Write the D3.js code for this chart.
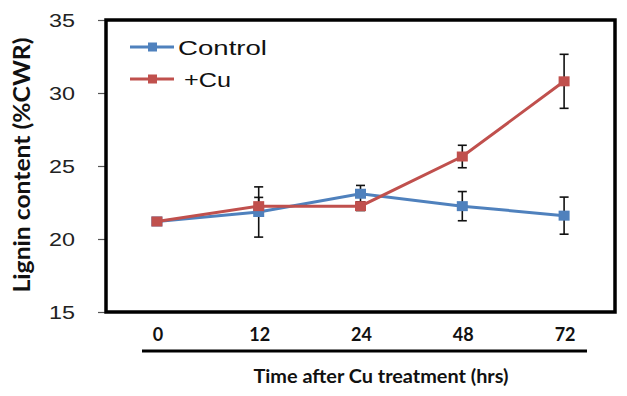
<!DOCTYPE html>
<html>
<head>
<meta charset="utf-8">
<script src="https://cdn.jsdelivr.net/npm/d3@7"></script>
<style>
  html, body { margin: 0; padding: 0; background: #fff; }
</style>
</head>
<body>
<div id="chart"></div>
<script>
// data
const hours = ['0', '12', '24', '48', '72'];
const controlMean = [21.2, 21.85, 23.1, 22.25, 21.6];
const controlErr = [0, 1.72, 0.57, 1.0, 1.27];
const cuMean = [21.2, 22.25, 22.25, 25.65, 30.8];
const cuErr = [0, 0.6, 0.3, 0.77, 1.85];
const yTicks = [15, 20, 25, 30, 35];

const width = 627, height = 396;
const plot = { left: 106, right: 615, top: 20, bottom: 312 };

const svg = d3.select('#chart').append('svg')
    .attr('width', width)
    .attr('height', height);

const x = d3.scaleBand().domain(hours).range([plot.left, plot.right]);
const y = d3.scaleLinear().domain([15, 35]).range([plot.bottom, plot.top]);
const cx = function (d) { return x(d) + x.bandwidth() / 2; };

// the original picture is stretched sideways, so text widths are forced
// y axis
const yAxis = svg.append('g')
    .attr('transform', 'translate(' + plot.left + ',0)')
    .call(d3.axisLeft(y).tickValues(yTicks).tickSize(8).tickPadding(23));
yAxis.select('.domain').remove();
yAxis.selectAll('line').attr('stroke', '#555').attr('stroke-width', 1.2);
yAxis.selectAll('text')
    .attr('font-family', 'Liberation Sans, Arial, sans-serif')
    .attr('font-size', 19)
    .attr('fill', '#222')
    .attr('textLength', 26)
    .attr('lengthAdjust', 'spacingAndGlyphs');

// frame
svg.append('rect')
    .attr('x', plot.left)
    .attr('y', plot.top)
    .attr('width', plot.right - plot.left)
    .attr('height', plot.bottom - plot.top)
    .attr('fill', 'none')
    .attr('stroke', '#000')
    .attr('stroke-width', 3.5);

// x labels (no tick marks)
svg.append('g').selectAll('text')
    .data(hours)
    .enter()
    .append('text')
    .attr('x', function (d) { return cx(d) + 1; })
    .attr('y', 341)
    .attr('text-anchor', 'middle')
    .attr('font-family', 'Lato, sans-serif')
    .attr('font-weight', 'bold')
    .attr('font-size', 18)
    .attr('fill', '#111')
    .text(function (d) { return d; });

svg.append('line')
    .attr('x1', 142).attr('x2', 587)
    .attr('y1', 351).attr('y2', 351)
    .attr('stroke', '#000')
    .attr('stroke-width', 3);

svg.append('text')
    .attr('x', 381)
    .attr('y', 383)
    .attr('text-anchor', 'middle')
    .attr('font-family', 'Lato, sans-serif')
    .attr('font-weight', 'bold')
    .attr('font-size', 18)
    .attr('fill', '#111')
    .attr('textLength', 255)
    .attr('lengthAdjust', 'spacingAndGlyphs')
    .text('Time after Cu treatment (hrs)');

svg.append('text')
    .attr('transform', 'translate(30,165) rotate(-90)')
    .attr('text-anchor', 'middle')
    .attr('font-family', 'Lato, sans-serif')
    .attr('font-weight', 'bold')
    .attr('font-size', 23)
    .attr('fill', '#111')
    .attr('textLength', 255)
    .attr('lengthAdjust', 'spacingAndGlyphs')
    .text('Lignin content (%CWR)');

// series
const series = [
    { name: 'Control', color: '#4F81BD', mean: controlMean, err: controlErr, textLen: 89, textX: 48 },
    { name: '+Cu', color: '#C0504D', mean: cuMean, err: cuErr, textLen: 47, textX: 54 }
];

const line = d3.line()
    .x(function (d) { return cx(d.h); })
    .y(function (d) { return y(d.v); });

series.forEach(function (s) {
    const pts = hours.map(function (h, i) { return { h: h, v: s.mean[i], e: s.err[i] }; });
    const bars = svg.append('g').selectAll('g')
        .data(pts.filter(function (d) { return d.e > 0; }))
        .enter()
        .append('g')
        .attr('stroke', '#111')
        .attr('stroke-width', 1.6);
    bars.append('line')
        .attr('x1', function (d) { return cx(d.h); })
        .attr('x2', function (d) { return cx(d.h); })
        .attr('y1', function (d) { return y(d.v - d.e); })
        .attr('y2', function (d) { return y(d.v + d.e); });
    [-1, 1].forEach(function (k) {
        bars.append('line')
            .attr('x1', function (d) { return cx(d.h) - 4.5; })
            .attr('x2', function (d) { return cx(d.h) + 4.5; })
            .attr('y1', function (d) { return y(d.v + k * d.e); })
            .attr('y2', function (d) { return y(d.v + k * d.e); });
    });
});

series.forEach(function (s) {
    const pts = hours.map(function (h, i) { return { h: h, v: s.mean[i] }; });
    svg.append('path')
        .datum(pts)
        .attr('d', line)
        .attr('fill', 'none')
        .attr('stroke', s.color)
        .attr('stroke-width', 3);
    svg.append('g').selectAll('rect')
        .data(pts)
        .enter()
        .append('rect')
        .attr('x', function (d) { return cx(d.h) - 5.5; })
        .attr('y', function (d) { return y(d.v) - 5; })
        .attr('width', 11)
        .attr('height', 10)
        .attr('fill', s.color);
});

// legend
const legend = svg.append('g').selectAll('g')
    .data(series)
    .enter()
    .append('g')
    .attr('transform', function (d, i) { return 'translate(130,' + (47 + i * 32) + ')'; });
legend.append('line')
    .attr('x1', 0).attr('x2', 44)
    .attr('stroke', function (d) { return d.color; })
    .attr('stroke-width', 3);
legend.append('rect')
    .attr('x', 18).attr('y', -4.5)
    .attr('width', 9).attr('height', 9)
    .attr('fill', function (d) { return d.color; });
legend.append('text')
    .attr('x', function (d) { return d.textX; })
    .attr('y', 8)
    .attr('font-family', 'Liberation Sans, Arial, sans-serif')
    .attr('font-size', 21)
    .attr('fill', '#111')
    .attr('textLength', function (d) { return d.textLen; })
    .attr('lengthAdjust', 'spacingAndGlyphs')
    .text(function (d) { return d.name; });
</script>
</body>
</html>
